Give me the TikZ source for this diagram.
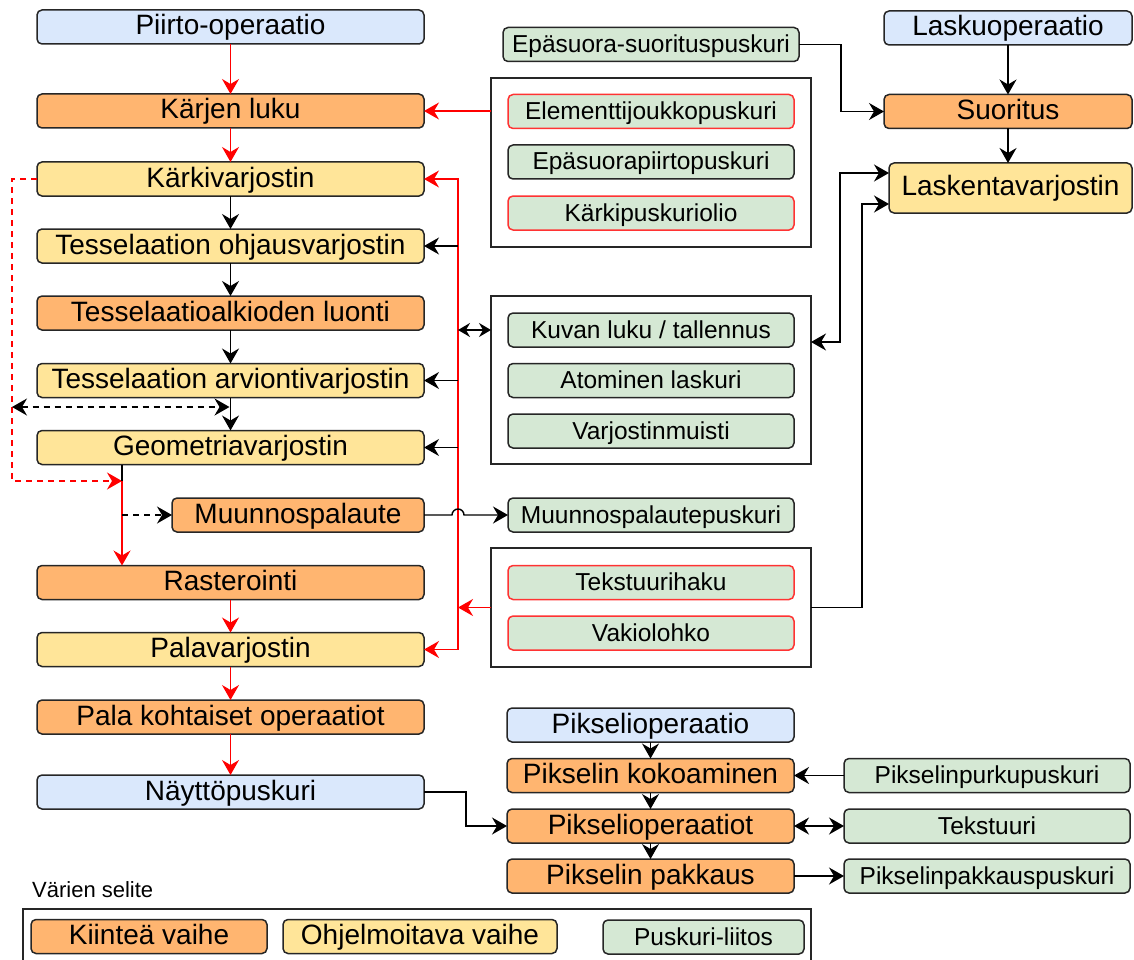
\documentclass[tikz,border=0pt]{standalone}
\usepackage{fontspec}
\setmainfont{Liberation Sans}
\usetikzlibrary{arrows.meta,calc}
\definecolor{cblue}{HTML}{DAE8FC}
\definecolor{corange}{HTML}{FFB570}
\definecolor{cyellow}{HTML}{FFE599}
\definecolor{cgreen}{HTML}{D5E8D4}
\definecolor{cborder}{HTML}{262626}
\definecolor{cred}{HTML}{FF0000}
\definecolor{credb}{HTML}{FF3333}
\begin{document}
\begin{tikzpicture}[x=1pt,y=-1pt,
  basebox/.style={draw=cborder, line width=1.5pt, rounded corners=5pt, inner sep=0pt, outer sep=0pt,
    text height=21pt, text depth=5pt, align=center, minimum height=34pt},
  big/.style={basebox, font=\fontsize{28}{30}\selectfont},
  bluebox/.style={big, fill=cblue},
  orangebox/.style={big, fill=corange},
  yellowbox/.style={big, fill=cyellow},
  leftcol/.style={minimum width=387pt},
  midcol/.style={minimum width=287pt},
  buf/.style={basebox, fill=cgreen, font=\fontsize{24.5}{27}\selectfont, minimum width=286pt},
  redbuf/.style={buf, draw=credb},
  grp/.style={draw=cborder, line width=1.5pt, inner sep=0pt, outer sep=0pt, fill=white},
  conn/.style={draw=black, line width=1.4pt, -{Stealth[length=15pt, width=17pt, inset=5pt]}},
  dconn/.style={draw=black, line width=1.4pt, {Stealth[length=15pt, width=17pt, inset=5pt]}-{Stealth[length=15pt, width=17pt, inset=5pt]}},
  sdconn/.style={draw=black, line width=1.4pt, {Stealth[length=12pt, width=14pt, inset=4pt]}-{Stealth[length=12pt, width=14pt, inset=4pt]}},
  rconn/.style={draw=cred, line width=1.4pt, -{Stealth[length=15pt, width=17pt, inset=5pt]}},
  plainline/.style={draw=black, line width=1.4pt},
  dashpat/.style={dash pattern=on 6pt off 5pt}
]
\useasboundingbox (0,0) rectangle (1134,960);

% ---------- left column ----------
\node[bluebox, leftcol]   (piirto)  at (230.5,27)    {Piirto-operaatio};
\node[orangebox, leftcol] (karjen)  at (230.5,111)   {Kärjen luku};
\node[yellowbox, leftcol] (karki)   at (230.5,179)   {Kärkivarjostin};
\node[yellowbox, leftcol] (ohjaus)  at (230.5,246)   {Tesselaation ohjausvarjostin};
\node[orangebox, leftcol] (alkiot)  at (230.5,313)   {Tesselaatioalkioden luonti};
\node[yellowbox, leftcol] (arvio)   at (230.5,380.5) {Tesselaation arviontivarjostin};
\node[yellowbox, leftcol] (geom)    at (230.5,447.5) {Geometriavarjostin};
\node[orangebox, minimum width=252pt] (muunnos) at (298,515) {Muunnospalaute};
\node[orangebox, leftcol] (raster)  at (230.5,582.5) {Rasterointi};
\node[yellowbox, leftcol] (pala)    at (230.5,649.5) {Palavarjostin};
\node[orangebox, leftcol] (palaop)  at (230.5,717)   {Pala kohtaiset operaatiot};
\node[bluebox, leftcol]   (naytto)  at (230.5,792)   {Näyttöpuskuri};

% ---------- middle column ----------
\node[buf, minimum width=296pt] (epasuora) at (651,44.5) {Epäsuora-suorituspuskuri};
\node[grp, minimum width=320pt, minimum height=169pt] (g1) at (651,162.5) {};
\node[redbuf] (elem)      at (651,111.5) {Elementtijoukkopuskuri};
\node[buf]    (epapiirto) at (651,162)   {Epäsuorapiirtopuskuri};
\node[redbuf] (karkip)    at (651,213)   {Kärkipuskuriolio};
\node[grp, minimum width=320pt, minimum height=168pt] (g2) at (651,380) {};
\node[buf] (kuvan)  at (651,330)   {Kuvan luku / tallennus};
\node[buf] (atom)   at (651,380.5) {Atominen laskuri};
\node[buf] (vmuist) at (651,431)   {Varjostinmuisti};
\node[buf] (mpusk)  at (651,515)   {Muunnospalautepuskuri};
\node[grp, minimum width=320pt, minimum height=119pt] (g3) at (651,607.5) {};
\node[redbuf] (thaku) at (651,582.5) {Tekstuurihaku};
\node[redbuf] (vakio) at (651,633)   {Vakiolohko};
\node[bluebox, midcol]   (pikop)   at (650.5,725)   {Pikselioperaatio};
\node[orangebox, midcol] (kokoam)  at (650.5,775.5) {Pikselin kokoaminen};
\node[orangebox, midcol] (pikops)  at (650.5,826)   {Pikselioperaatiot};
\node[orangebox, midcol] (pakkaus) at (650.5,876)   {Pikselin pakkaus};

% ---------- right column ----------
\node[bluebox, minimum width=248pt]   (lasku)    at (1008,28)     {Laskuoperaatio};
\node[orangebox, minimum width=248pt] (suoritus) at (1008,111.5)  {Suoritus};
\node[yellowbox, minimum width=243pt, minimum height=50pt] (laskenta) at (1010.5,188) {Laskentavarjostin};
\node[buf] (purku)    at (987,775.5) {Pikselinpurkupuskuri};
\node[buf] (tekst)    at (987,826)   {Tekstuuri};
\node[buf] (pakkpusk) at (987,876)   {Pikselinpakkauspuskuri};

% ---------- legend ----------
\node[anchor=base west, inner sep=0pt, font=\fontsize{22}{24}\selectfont] (selite) at (32,897) {Värien selite};
\draw[draw=cborder, line width=1.5pt] (23,909) rectangle (811,975);
\node[orangebox, minimum width=236pt] (lkiintea) at (149,936.5) {Kiinteä vaihe};
\node[yellowbox, minimum width=274pt] (lohj)     at (420,936.5) {Ohjelmoitava vaihe};
\node[buf, minimum width=201pt]       (lpusk)    at (703.5,937) {Puskuri-liitos};

% ---------- coordinates ----------
\coordinate (busT) at (458,179);
\coordinate (busP) at (458,649.5);
\coordinate (dl1) at (12,179);
\coordinate (dl2) at (12,481);
\coordinate (dj) at (122,481);
\coordinate (dd1) at (12,407);
\coordinate (e1) at (841,44.5);
\coordinate (k1) at (840,342);
\coordinate (k2) at (862,607.5);
\coordinate (n1) at (466,792);

% ---------- left chain ----------
\draw[rconn] (piirto) -- (karjen);
\draw[rconn] (karjen) -- (karki);
\draw[conn] (karki) -- (ohjaus);
\draw[conn] (ohjaus) -- (alkiot);
\draw[conn] (alkiot) -- (arvio);
\draw[conn] (arvio) -- (geom);
\draw[rconn] (pala) -- (palaop);
\draw[rconn] (palaop) -- (naytto);
\draw[rconn] (raster) -- (pala);

% dashed red from Kärkivarjostin
\draw[rconn, dashpat] (karki.west) -- (dl1) -- (dl2) -- (dj);
% geometry -> rasterointi
\draw[plainline] (dj |- geom.south) -- (dj);
\draw[rconn] (dj) -- (dj |- raster.north);
% dashed to Muunnospalaute
\draw[conn, dashpat] (dj |- muunnos.west) -- (muunnos.west);
% dashed double arrow
\draw[dconn, dashpat] (dd1) -- ([xshift=-1pt]arvio.south |- dd1);

% ---------- red bus ----------
\draw[draw=cred, line width=1.4pt, {Stealth[length=15pt, width=17pt, inset=5pt]}-{Stealth[length=15pt, width=17pt, inset=5pt]}]
  (karki.east) -- (busT) -- (busP) -- (pala.east);
\draw[rconn] (g3.west) -- (g3.west -| busT);
\draw[rconn] (g1.west |- karjen.east) -- (karjen.east);
\draw[conn] (busT |- ohjaus.east) -- (ohjaus.east);
\draw[conn] (busT |- arvio.east) -- (arvio.east);
\draw[conn] (busT |- geom.east) -- (geom.east);
\draw[sdconn] (busT |- kuvan.west) -- (g2.west |- kuvan.west);
% hop
\draw[conn] (muunnos.east) -- ([xshift=-6pt]busT |- muunnos.east)
  arc[start angle=180, end angle=0, radius=6pt] -- (mpusk.west);

% ---------- right side ----------
\draw[conn] (epasuora.east) -- (e1) |- (suoritus.west);
\draw[conn] (lasku) -- (suoritus);
\draw[conn] (suoritus.south) -- (suoritus.south |- laskenta.north);
\draw[dconn] (g2.east |- k1) -- (k1) |- ([yshift=15pt]laskenta.west);
\draw[conn] (g3.east) -- (k2) |- ([yshift=-16pt]laskenta.west);

% ---------- pixel part ----------
\draw[conn] (naytto.east) -- (n1) |- (pikops.west);
\draw[conn] (pikop) -- (kokoam);
\draw[conn] (kokoam) -- (pikops);
\draw[conn] (pikops) -- (pakkaus);
\draw[conn] (purku.west) -- (kokoam.east);
\draw[dconn] (pikops.east) -- (tekst.west);
\draw[conn] (pakkaus.east) -- (pakkpusk.west);
\end{tikzpicture}
\end{document}
